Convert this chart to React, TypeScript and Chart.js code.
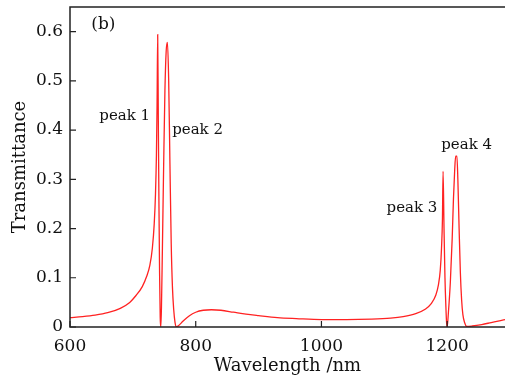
import React, { useEffect, useRef } from "react";
import { Chart, registerables } from "chart.js";

Chart.register(...registerables);

const wavelength: number[] = [
  600, 620, 640, 660, 680, 695, 705, 715, 722, 727, 731, 734, 736, 737.5, 738.5, 739.5, 740.5, 741.5, 742.5, 743.5,
  744.5, 745.5, 747, 749, 751, 753, 755, 757, 759, 761, 763, 765, 767, 769, 772, 780, 790, 800, 812, 825, 840, 860,
  880, 900, 930, 960, 1000, 1040, 1080, 1110, 1130, 1150, 1165, 1175, 1182, 1186, 1189, 1191, 1192.5, 1193.5, 1195,
  1196.5, 1198, 1199, 1200, 1202, 1205, 1208, 1210, 1212, 1213.5, 1215.5, 1217, 1219, 1221, 1223, 1225, 1228, 1231,
  1240, 1255, 1270, 1285, 1292,
];
const transmittance: number[] = [
  0.019, 0.021, 0.024, 0.029, 0.038, 0.05, 0.064, 0.082, 0.103, 0.125, 0.16, 0.21, 0.27, 0.35, 0.45, 0.594, 0.42, 0.25,
  0.11, 0.02, 0.0, 0.04, 0.16, 0.33, 0.48, 0.56, 0.578, 0.5, 0.33, 0.17, 0.08, 0.035, 0.01, 0.0, 0.002, 0.012, 0.023,
  0.03, 0.034, 0.035, 0.034, 0.03, 0.026, 0.023, 0.019, 0.017, 0.015, 0.015, 0.016, 0.018, 0.021, 0.027, 0.036, 0.048,
  0.065, 0.085, 0.115, 0.16, 0.22, 0.316, 0.2, 0.1, 0.04, 0.01, 0.0, 0.03, 0.09, 0.18, 0.26, 0.32, 0.347, 0.347, 0.3,
  0.2, 0.11, 0.055, 0.025, 0.008, 0.001, 0.002, 0.005, 0.009, 0.013, 0.015,
];
const xTicks: number[] = [600, 800, 1000, 1200];
const yTicks: number[] = [0, 0.1, 0.2, 0.3, 0.4, 0.5, 0.6];
const labelTexts: string[] = ["(b)", "peak 1", "peak 2", "peak 3", "peak 4"];
const labelX: number[] = [653, 687, 803, 1144, 1231];
const labelY: number[] = [0.615, 0.428, 0.4, 0.241, 0.369];

const FONT = "'DejaVu Serif', serif";

const decor = {
  id: "decor",
  afterDraw(chart: any) {
    const { ctx, chartArea, scales } = chart;
    const xs = scales.x;
    const ys = scales.y;
    ctx.save();
    ctx.strokeStyle = "#222";
    ctx.lineWidth = 1.5;
    ctx.beginPath();
    ctx.moveTo(chartArea.right + 2, chartArea.top);
    ctx.lineTo(chartArea.left, chartArea.top);
    ctx.lineTo(chartArea.left, chartArea.bottom);
    ctx.lineTo(chartArea.right + 2, chartArea.bottom);
    ctx.stroke();
    ctx.lineWidth = 1.2;
    ctx.beginPath();
    xTicks.forEach((v) => {
      const px = xs.getPixelForValue(v);
      ctx.moveTo(px, chartArea.bottom);
      ctx.lineTo(px, chartArea.bottom - 6);
    });
    yTicks.forEach((v) => {
      const py = ys.getPixelForValue(v);
      ctx.moveTo(chartArea.left, py);
      ctx.lineTo(chartArea.left + 6, py);
    });
    ctx.stroke();
    ctx.fillStyle = "#111";
    ctx.textAlign = "center";
    ctx.textBaseline = "middle";
    labelTexts.forEach((t, i) => {
      ctx.font = i === 0 ? `17px ${FONT}` : `15px ${FONT}`;
      ctx.fillText(t, xs.getPixelForValue(labelX[i]), ys.getPixelForValue(labelY[i]));
    });
    ctx.restore();
  },
};

export default function App() {
  const ref = useRef<HTMLCanvasElement | null>(null);
  useEffect(() => {
    if (!ref.current) return;
    const chart = new Chart(ref.current, {
      type: "line",
      data: {
        datasets: [
          {
            data: wavelength.map((w, i) => ({ x: w, y: transmittance[i] })),
            borderColor: "#f22",
            borderWidth: 1.3,
            pointRadius: 0,
            fill: false,
            cubicInterpolationMode: "monotone",
          },
        ],
      },
      options: {
        animation: false,
        responsive: false,
        maintainAspectRatio: false,
        layout: { padding: { top: 7, right: 0, left: 0, bottom: 0 } },
        plugins: { legend: { display: false }, tooltip: { enabled: false } },
        scales: {
          x: {
            type: "linear",
            min: 600,
            max: 1292,
            afterFit: (s: any) => {
              s.height = 52;
              s.paddingLeft = 0;
              s.paddingRight = 0;
            },
            afterBuildTicks: (s: any) => {
              s.ticks = xTicks.map((v) => ({ value: v }));
            },
            grid: { display: false, drawTicks: false },
            border: { display: false },
            ticks: {
              padding: 9,
              color: "#111",
              font: { family: FONT, size: 17 },
              maxRotation: 0,
              callback: (v: any) => String(v),
            },
            title: {
              display: true,
              text: "Wavelength /nm",
              color: "#111",
              font: { family: FONT, size: 18 },
              padding: { top: 0, bottom: 2 },
            },
          },
          y: {
            type: "linear",
            min: 0,
            max: 0.65,
            afterFit: (s: any) => {
              s.width = 70;
              s.paddingTop = 0;
              s.paddingBottom = 0;
            },
            afterBuildTicks: (s: any) => {
              s.ticks = yTicks.map((v) => ({ value: v }));
            },
            grid: { display: false, drawTicks: false },
            border: { display: false },
            ticks: {
              padding: 7,
              color: "#111",
              font: { family: FONT, size: 17 },
              callback: (v: any) => (v === 0 ? "0" : Number(v).toFixed(1)),
            },
            title: {
              display: true,
              text: "Transmittance",
              color: "#111",
              font: { family: FONT, size: 18 },
              padding: { top: 10, bottom: 0 },
            },
          },
        },
      },
      plugins: [decor],
    } as any);
    return () => chart.destroy();
  }, []);
  return (
    <div style={{ position: "fixed", left: 0, top: 0, width: 505, height: 379, background: "#fff" }}>
      <canvas ref={ref} width={505} height={379} style={{ display: "block" }} />
    </div>
  );
}
